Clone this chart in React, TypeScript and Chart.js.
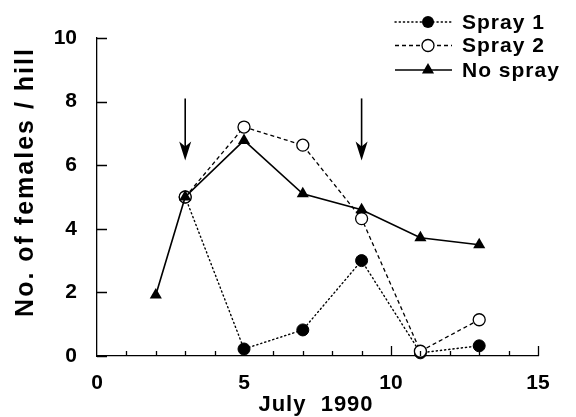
import React, { useEffect, useRef } from "react";
import { Chart, registerables } from "chart.js";

Chart.register(...registerables);

// ---- data ----
const spray1Days = [3, 5, 7, 9, 11, 13];
const spray1Values = [5.0, 0.22, 0.82, 3.0, 0.1, 0.32];
const spray2Days = [3, 5, 7, 9, 11, 13];
const spray2Values = [5.0, 7.2, 6.63, 4.32, 0.15, 1.14];
const noSprayDays = [2, 3, 5, 7, 9, 11, 13];
const noSprayValues = [1.92, 5.0, 6.78, 5.1, 4.6, 3.72, 3.5];
const seriesNames = ["Spray 1", "Spray 2", "No spray"];
const xTickValues = [0, 5, 10, 15];
const xMinorTickValues = [1, 2, 3, 4, 6, 7, 8, 9, 11, 12, 13, 14];
const yTickValues = [0, 2, 4, 6, 8, 10];
const arrowDays = [3, 9];
const arrowTopValues = [8.1, 8.1];
const arrowTipValues = [6.15, 6.15];
const xTitle = "July  1990";
const yTitle = "No. of females / hill";

const FONT = "'Liberation Sans', Arial, Helvetica, sans-serif";
const INK = "#000";

const toXY = (xs: number[], ys: number[]) => xs.map((x, i) => ({ x, y: ys[i] }));

function drawMarker(ctx: CanvasRenderingContext2D, kind: string, x: number, y: number) {
  ctx.save();
  ctx.setLineDash([]);
  ctx.lineWidth = 1.3;
  ctx.strokeStyle = INK;
  if (kind === "filled") {
    ctx.beginPath();
    ctx.arc(x, y, 6, 0, Math.PI * 2);
    ctx.fillStyle = INK;
    ctx.fill();
  } else if (kind === "open") {
    ctx.beginPath();
    ctx.arc(x, y, 6, 0, Math.PI * 2);
    ctx.fillStyle = "#fff";
    ctx.fill();
    ctx.stroke();
  } else {
    const r = 7;
    ctx.beginPath();
    ctx.moveTo(x, y - r);
    ctx.lineTo(x + r * Math.sin(Math.PI / 3), y + r * 0.5);
    ctx.lineTo(x - r * Math.sin(Math.PI / 3), y + r * 0.5);
    ctx.closePath();
    ctx.fillStyle = INK;
    ctx.fill();
  }
  ctx.restore();
}

const decorPlugin = {
  id: "decor",
  afterDatasetsDraw(chart: any) {
    const ctx: CanvasRenderingContext2D = chart.ctx;
    const xs = chart.scales.x;
    const ys = chart.scales.y;
    ctx.save();
    ctx.strokeStyle = INK;
    ctx.fillStyle = INK;
    arrowDays.forEach((d, i) => {
      const px = xs.getPixelForValue(d);
      const top = ys.getPixelForValue(arrowTopValues[i]);
      const tip = ys.getPixelForValue(arrowTipValues[i]);
      ctx.lineWidth = 1.6;
      ctx.beginPath();
      ctx.moveTo(px, top);
      ctx.lineTo(px, tip - 12);
      ctx.stroke();
      ctx.beginPath();
      ctx.moveTo(px, tip);
      ctx.lineTo(px + 6, tip - 19);
      ctx.lineTo(px, tip - 14);
      ctx.lineTo(px - 6, tip - 19);
      ctx.closePath();
      ctx.fill();
    });
    ctx.restore();
  },
  afterDraw(chart: any) {
    const ctx: CanvasRenderingContext2D = chart.ctx;
    const xs = chart.scales.x;
    const ys = chart.scales.y;
    const area = chart.chartArea;
    ctx.save();
    ctx.strokeStyle = INK;
    ctx.lineWidth = 1.3;
    ctx.setLineDash([]);
    // inward ticks
    ctx.beginPath();
    yTickValues.forEach((v) => {
      const py = Math.round(ys.getPixelForValue(v)) + 0.5;
      ctx.moveTo(area.left, py);
      ctx.lineTo(area.left + 10, py);
    });
    xTickValues.forEach((v) => {
      if (v === 0) return;
      const px = Math.round(xs.getPixelForValue(v)) + 0.5;
      ctx.moveTo(px, area.bottom);
      ctx.lineTo(px, area.bottom - 10);
    });
    xMinorTickValues.forEach((v) => {
      const px = Math.round(xs.getPixelForValue(v)) + 0.5;
      ctx.moveTo(px, area.bottom);
      ctx.lineTo(px, area.bottom - 5);
    });
    ctx.stroke();

    // legend
    const rows = [
      { y: 22, dash: [1.2, 3], kind: "filled", lw: 1.4 },
      { y: 45.5, dash: [4, 3], kind: "open", lw: 1.3 },
      { y: 70, dash: [], kind: "tri", lw: 1.6 },
    ];
    rows.forEach((r, i) => {
      ctx.save();
      ctx.lineWidth = r.lw;
      ctx.lineCap = r.dash.length && r.dash[0] < 2 ? "round" : "butt";
      ctx.setLineDash(r.dash);
      ctx.beginPath();
      ctx.moveTo(395, r.y);
      ctx.lineTo(452, r.y);
      ctx.stroke();
      ctx.restore();
      drawMarker(ctx, r.kind, 428, r.y);
      ctx.save();
      ctx.fillStyle = INK;
      ctx.font = `bold 21px ${FONT}`;
      (ctx as any).letterSpacing = "1px";
      ctx.textAlign = "left";
      ctx.textBaseline = "middle";
      ctx.fillText(seriesNames[i], 462, r.y + 1);
      ctx.restore();
    });

    // x title
    ctx.save();
    ctx.fillStyle = INK;
    ctx.font = `bold 22px ${FONT}`;
    (ctx as any).letterSpacing = "1px";
    ctx.textAlign = "center";
    ctx.textBaseline = "alphabetic";
    ctx.fillText(xTitle, 316, 411);
    ctx.restore();

    // y title
    ctx.save();
    ctx.fillStyle = INK;
    ctx.font = `bold 25px ${FONT}`;
    (ctx as any).letterSpacing = "2px";
    ctx.translate(33, 182);
    ctx.rotate(-Math.PI / 2);
    ctx.textAlign = "center";
    ctx.textBaseline = "alphabetic";
    ctx.fillText(yTitle, 0, 0);
    ctx.restore();

    ctx.restore();
  },
};

export default function App() {
  const ref = useRef<HTMLCanvasElement>(null);
  useEffect(() => {
    if (!ref.current) return;
    const tickFont = { family: FONT, size: 21, weight: "bold" as const };
    const chart = new Chart(ref.current, {
      type: "scatter",
      data: {
        datasets: [
          {
            label: seriesNames[0],
            data: toXY(spray1Days, spray1Values),
            showLine: true,
            borderColor: INK,
            borderWidth: 1.4,
            borderDash: [1.2, 3],
            borderCapStyle: "round",
            pointStyle: "circle",
            pointRadius: 6,
            pointBackgroundColor: INK,
            pointBorderColor: INK,
            pointBorderWidth: 1,
            order: 2,
            clip: false,
          } as any,
          {
            label: seriesNames[1],
            data: toXY(spray2Days, spray2Values),
            showLine: true,
            borderColor: INK,
            borderWidth: 1.3,
            borderDash: [4, 3],
            pointStyle: "circle",
            pointRadius: 6,
            pointBackgroundColor: "#fff",
            pointBorderColor: INK,
            pointBorderWidth: 1.3,
            order: 1,
            clip: false,
          } as any,
          {
            label: seriesNames[2],
            data: toXY(noSprayDays, noSprayValues),
            showLine: true,
            borderColor: INK,
            borderWidth: 1.6,
            pointStyle: "triangle",
            pointRadius: 7,
            pointBackgroundColor: INK,
            pointBorderColor: INK,
            pointBorderWidth: 0,
            order: 0,
            clip: false,
          } as any,
        ],
      },
      options: {
        animation: false,
        responsive: false,
        maintainAspectRatio: false,
        layout: { padding: { top: 38, right: 38, left: 0, bottom: 0 } },
        plugins: { legend: { display: false }, tooltip: { enabled: false } },
        scales: {
          x: {
            type: "linear",
            min: 0,
            max: 15,
            afterFit: (s: any) => {
              s.height = 61;
            },
            afterBuildTicks: (s: any) => {
              s.ticks = xTickValues.map((v) => ({ value: v }));
            },
            grid: { display: false, drawTicks: false },
            border: { display: true, color: INK, width: 1.3 },
            ticks: { padding: 15, font: tickFont, color: INK, maxRotation: 0, autoSkip: false },
          },
          y: {
            type: "linear",
            min: 0,
            max: 10,
            afterFit: (s: any) => {
              s.width = 97;
            },
            afterBuildTicks: (s: any) => {
              s.ticks = yTickValues.map((v) => ({ value: v }));
            },
            grid: { display: false, drawTicks: false },
            border: { display: true, color: INK, width: 1.3 },
            ticks: { padding: 20, font: tickFont, color: INK, autoSkip: false },
          },
        },
      } as any,
      plugins: [decorPlugin],
    });
    return () => chart.destroy();
  }, []);
  return (
    <div style={{ position: "absolute", left: 0, top: 0, width: 576, height: 417, background: "#fff" }}>
      <canvas ref={ref} width={576} height={417} style={{ display: "block" }} />
    </div>
  );
}
